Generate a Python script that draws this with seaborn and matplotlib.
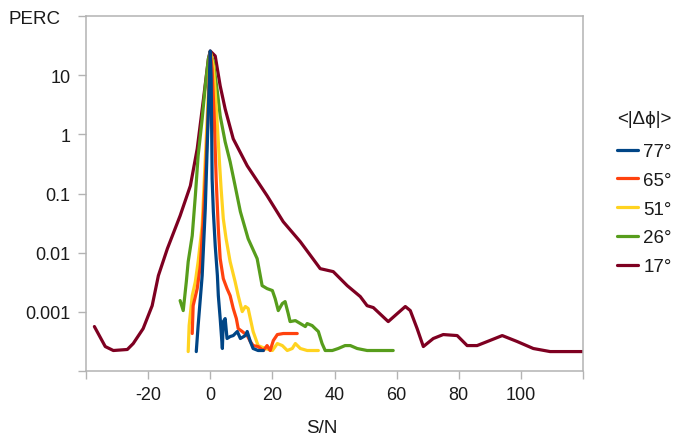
import matplotlib
matplotlib.use("Agg")
import matplotlib.pyplot as plt
import pandas as pd
import seaborn as sns

# ---------------- data ----------------
series_labels = ["77°", "65°", "51°", "26°", "17°"]
series_colors = ["#004586", "#ff420e", "#ffd320", "#579d1c", "#7e0021"]
legend_title = "<|Δϕ|>"

sn_77 = [-4.5, -3.9, -2.6, -1.6, -0.6, 0.0, 0.3, 0.6, 1.0, 1.6, 2.3, 2.6, 3.2, 3.9, 4.2,
         4.8, 5.4, 6.4, 7.4, 8.7, 9.7, 11.3, 11.9, 12.9, 13.8, 15.4, 17.1]
perc_77 = [0.000213, 0.000586, 0.00409, 0.0553, 2.69, 25.6, 8.65, 0.177, 0.0492, 0.0131,
           0.00409, 0.00188, 0.000769, 0.000240, 0.000684, 0.000769, 0.000354, 0.000382,
           0.000397, 0.000465, 0.000354, 0.000397, 0.000465, 0.000315, 0.000240, 0.000222,
           0.000222]

sn_65 = [-5.8, -5.5, -4.2, -3.2, -2.3, -1.6, -0.6, 0.0, 0.6, 1.3, 1.9, 2.6, 3.2, 4.2, 5.4,
         6.4, 7.4, 8.4, 9.0, 10.3, 11.9, 12.9, 13.8, 15.4, 17.1, 18.3, 19.3, 20.3, 21.6,
         23.5, 28.0]
perc_65 = [0.000430, 0.00127, 0.00247, 0.00604, 0.0333, 0.177, 2.69, 24.7, 12.7, 1.83,
           0.177, 0.0254, 0.00792, 0.00364, 0.00247, 0.00188, 0.00114, 0.000769, 0.000521,
           0.000465, 0.000397, 0.000315, 0.000269, 0.000259, 0.000222, 0.000269, 0.000222,
           0.000327, 0.000413, 0.000430, 0.000430]

sn_51 = [-7.1, -6.8, -5.8, -4.8, -3.9, -2.6, -1.6, -0.6, 0.0, 1.0, 1.6, 2.3, 2.9, 3.5, 4.2,
         5.1, 6.4, 8.0, 9.0, 10.3, 11.3, 12.2, 12.9, 13.8, 15.4, 17.7, 20.0, 21.6, 23.2,
         24.8, 26.4, 27.4, 29.0, 31.2, 34.8]
perc_51 = [0.000213, 0.000586, 0.00188, 0.00324, 0.00705, 0.0286, 0.386, 5.21, 24.7, 14.3,
           5.21, 1.39, 0.386, 0.120, 0.0375, 0.0172, 0.00705, 0.00324, 0.00188, 0.00101,
           0.00123, 0.00114, 0.000769, 0.000465, 0.000269, 0.000240, 0.000222, 0.000291,
           0.000269, 0.000222, 0.000240, 0.000291, 0.000240, 0.000222, 0.000222]

sn_26 = [-9.7, -8.7, -7.7, -7.1, -5.8, -4.8, -3.9, -2.6, -1.6, -0.6, 0.0, 1.0, 2.3, 3.2,
         4.8, 6.4, 8.0, 9.7, 12.2, 15.1, 16.7, 18.3, 20.0, 20.9, 21.9, 23.2, 24.1, 25.1,
         25.7, 27.4, 29.0, 30.6, 31.2, 32.8, 33.8, 34.8, 36.0, 37.0, 39.3, 41.2, 43.4,
         45.1, 47.3, 50.5, 58.9]
perc_26 = [0.00155, 0.00105, 0.00324, 0.00705, 0.0194, 0.0916, 0.434, 1.83, 6.59, 18.8,
           24.7, 16.7, 5.21, 2.05, 0.747, 0.344, 0.135, 0.0492, 0.0172, 0.00792, 0.00277,
           0.00247, 0.00229, 0.00167, 0.00105, 0.00138, 0.00149, 0.000933, 0.000684,
           0.000711, 0.000634, 0.000564, 0.000634, 0.000586, 0.000521, 0.000465, 0.000291,
           0.000222, 0.000222, 0.000240, 0.000269, 0.000269, 0.000240, 0.000222, 0.000222]

sn_17 = [-37.3, -33.8, -31.2, -26.7, -24.8, -21.6, -18.7, -16.7, -13.8, -9.7, -6.4, -4.2,
         -2.3, -0.6, 0.0, 1.6, 3.2, 4.8, 7.4, 11.9, 18.3, 23.5, 29.0, 35.4, 39.6, 44.1,
         48.3, 50.5, 52.5, 57.3, 60.2, 62.8, 64.4, 66.6, 68.6, 71.8, 75.0, 79.5, 82.7,
         85.9, 89.2, 94.0, 98.8, 104.0, 109.4, 120.0]
perc_17 = [0.000564, 0.000259, 0.000222, 0.000231, 0.000291, 0.000521, 0.00127, 0.00409,
           0.0117, 0.0421, 0.135, 0.569, 3.54, 18.8, 25.6, 21.1, 6.59, 2.69, 0.839, 0.294,
           0.0916, 0.0333, 0.0153, 0.00537, 0.00478, 0.00277, 0.00181, 0.00127, 0.00118,
           0.000684, 0.000933, 0.00123, 0.00105, 0.000521, 0.000259, 0.000354, 0.000413,
           0.000397, 0.000269, 0.000269, 0.000315, 0.000397, 0.000315, 0.000240, 0.000213,
           0.000213]

x_ticks = [-40, -20, 0, 20, 40, 60, 80, 100, 120]
x_tick_labels = ["", "-20", "0", "20", "40", "60", "80", "100", ""]
y_ticks = [1e-4, 1e-3, 1e-2, 1e-1, 1, 10, 100]
y_tick_labels = ["", "0.001", "0.01", "0.1", "1", "10", ""]

# ---------------- frame ----------------
frames = []
for lab, xs, ys in zip(series_labels,
                       [sn_77, sn_65, sn_51, sn_26, sn_17],
                       [perc_77, perc_65, perc_51, perc_26, perc_17]):
    frames.append(pd.DataFrame({"S/N": xs, "PERC": ys, "dphi": lab}))
df = pd.concat(frames, ignore_index=True)

sns.set_theme(style="white")
plt.rcParams["font.family"] = ["Liberation Sans", "DejaVu Sans"]

W, H = 675, 439
fig = plt.figure(figsize=(W / 100, H / 100), dpi=100)
ax = fig.add_axes([86 / W, 1 - 372 / H, (583 - 86) / W, (372 - 17) / H])

grey = "#b3b3b3"
txt = "#1a1a1a"
# draw dark-red first so blue is on top
for lab, col in reversed(list(zip(series_labels, series_colors))):
    sub = df[df["dphi"] == lab]
    sns.lineplot(data=sub, x="S/N", y="PERC", sort=False, estimator=None,
                 color=col, linewidth=2.3, ax=ax, label=lab)

ax.set_yscale("log")
ax.set_xlim(-40, 120)
ax.set_ylim(1e-4, 100)
ax.set_xticks(x_ticks)
ax.set_xticklabels(x_tick_labels)
ax.set_yticks(y_ticks)
ax.set_yticklabels(y_tick_labels)
ax.minorticks_off()
ax.tick_params(axis="both", which="major", direction="out", length=6, width=1,
               color=grey, labelsize=13, labelcolor=txt, pad=5,
               left=True, bottom=True)
for s in ax.spines.values():
    s.set_color(grey)
    s.set_linewidth(1.1)
    s.set_visible(True)
ax.set_xlabel("")
ax.set_ylabel("")
ax.grid(False)

fig.text(8 / W, 1 - 20 / H, "PERC", fontsize=13.5, color=txt, va="center", ha="left")
fig.text(322 / W, 1 - 429 / H, "S/N", fontsize=13.5, color=txt, va="center", ha="center")
fig.text(617 / W, 1 - 119 / H, legend_title, fontsize=13.5, color=txt, va="center", ha="left")

h, l = ax.get_legend_handles_labels()
order = [l.index(s) for s in series_labels]
leg = ax.legend([h[i] for i in order], [l[i] for i in order],
                loc="upper left", bbox_to_anchor=(617 / W, 1 - 144 / H),
                bbox_transform=fig.transFigure, frameon=False, fontsize=13.5,
                handlelength=1.1, handletextpad=0.3,
                labelspacing=0.62, borderpad=0, borderaxespad=0)
for t in leg.get_texts():
    t.set_color(txt)

fig.savefig("out.png", dpi=100)
